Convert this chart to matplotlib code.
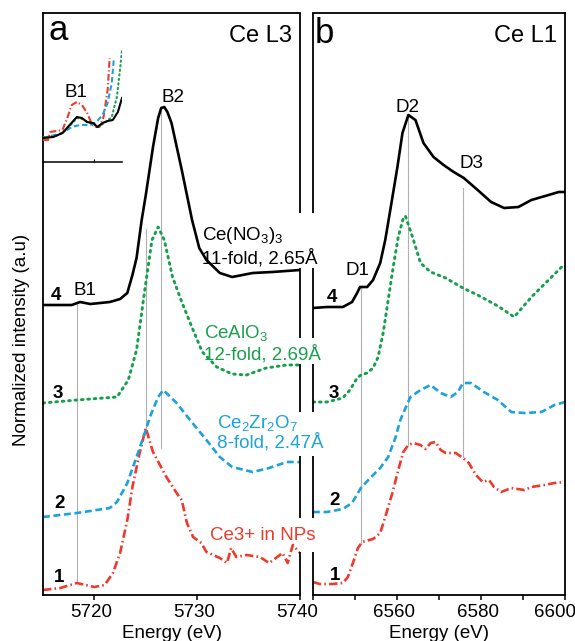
import matplotlib
matplotlib.use('Agg')
import matplotlib.pyplot as plt
from matplotlib.transforms import ScaledTranslation

plt.rcParams['font.family'] = ['Liberation Sans', 'DejaVu Sans']
plt.rcParams['mathtext.fontset'] = 'custom'
plt.rcParams['mathtext.rm'] = 'Liberation Sans'
plt.rcParams['mathtext.default'] = 'regular'

BLACK = 'black'
GREEN = '#17a04c'
BLUE = '#1ba2db'
RED = '#ee3a2c'

# vertical stacking of spectra 1..4
offsets = [0.10, 0.80, 1.92, 2.88]

# ---- Ce L3 edge (panel a) ----
l3_e1 = [5715.0, 5716.7, 5718.3, 5720.0, 5721.0, 5721.8, 5722.5, 5723.2, 5723.7, 5724.4,
         5725.0, 5725.7, 5727.0, 5728.0, 5728.5, 5729.0, 5729.6, 5730.4, 5730.9, 5732.2,
         5732.9, 5733.3, 5733.8, 5734.8, 5736.1, 5737.0, 5738.3, 5738.8, 5739.3, 5740.0]
l3_mu1 = [-0.05, -0.03, 0.02, -0.02, 0.00, 0.12, 0.32, 0.65, 0.98, 1.32,
          1.57, 1.33, 1.08, 0.92, 0.85, 0.62, 0.48, 0.42, 0.33, 0.27,
          0.22, 0.37, 0.28, 0.30, 0.28, 0.22, 0.32, 0.22, 0.40, 0.32]

l3_e2 = [5715.0, 5718.3, 5721.5, 5722.2, 5723.2, 5724.1, 5725.1, 5725.4, 5726.2, 5726.7,
         5728.0, 5729.3, 5730.9, 5732.2, 5733.4, 5735.4, 5737.0, 5738.7, 5740.0]
l3_mu2 = [-0.02, 0.02, 0.07, 0.13, 0.32, 0.58, 0.88, 0.98, 1.18, 1.25,
          1.12, 0.95, 0.75, 0.58, 0.48, 0.43, 0.47, 0.53, 0.53]

l3_e3 = [5715.0, 5718.3, 5722.2, 5723.3, 5724.1, 5724.9, 5725.6, 5726.2, 5726.8, 5727.6,
         5728.5, 5729.6, 5730.5, 5731.9, 5733.4, 5734.8, 5736.7, 5738.7, 5740.0]
l3_mu3 = [0.00, 0.03, 0.06, 0.23, 0.53, 1.13, 1.63, 1.76, 1.63, 1.26,
          1.01, 0.73, 0.51, 0.36, 0.29, 0.28, 0.35, 0.38, 0.38]

l3_e4 = [5715.0, 5717.8, 5718.6, 5719.6, 5721.5, 5722.5, 5723.2, 5723.7, 5724.1, 5724.6,
         5725.0, 5725.7, 5726.2, 5726.5, 5726.8, 5727.1, 5727.5, 5728.5, 5729.5, 5730.2,
         5730.9, 5732.2, 5733.4, 5735.4, 5737.3, 5740.0]
l3_mu4 = [0.02, 0.02, 0.05, 0.03, 0.05, 0.08, 0.14, 0.32, 0.49, 0.87,
          1.12, 1.60, 1.89, 1.99, 2.00, 1.95, 1.84, 1.37, 0.87, 0.59,
          0.47, 0.34, 0.30, 0.34, 0.35, 0.37]

# pre-edge (B1) region, magnified
pre_e1 = [5715.0, 5715.5, 5715.7, 5716.9, 5717.4, 5717.8, 5718.3, 5718.8, 5719.3, 5719.8,
          5720.2, 5720.5, 5720.9, 5721.3, 5721.5]
pre_mu1 = [0.22, 0.22, 0.30, 0.32, 0.45, 0.57, 0.60, 0.57, 0.49, 0.37,
           0.35, 0.35, 0.45, 0.72, 1.04]
pre_e2 = [5715.0, 5716.9, 5717.8, 5718.6, 5719.6, 5720.2, 5720.8, 5721.3, 5721.7, 5721.9]
pre_mu2 = [0.24, 0.29, 0.35, 0.37, 0.37, 0.40, 0.47, 0.59, 0.79, 1.03]
pre_e3 = [5715.0, 5716.0, 5716.9, 5717.6, 5718.3, 5718.8, 5719.3, 5719.9, 5720.3, 5721.0,
          5721.7, 5722.2, 5722.5, 5722.7]
pre_mu3 = [0.25, 0.25, 0.29, 0.36, 0.44, 0.43, 0.40, 0.38, 0.35, 0.39,
           0.45, 0.65, 0.92, 1.12]
pre_e4 = [5715.0, 5716.0, 5716.9, 5717.6, 5718.3, 5718.8, 5719.3, 5719.9, 5720.3, 5720.8,
          5721.3, 5721.8, 5722.3, 5722.7]
pre_mu4 = [0.24, 0.25, 0.29, 0.37, 0.45, 0.44, 0.40, 0.39, 0.35, 0.39,
           0.41, 0.42, 0.50, 0.64]

# ---- Ce L1 edge (panel b) ----
l1_e1 = [6540.0, 6541.6, 6544.7, 6547.1, 6548.3, 6549.5, 6550.7, 6551.7, 6554.3, 6556.0,
         6557.2, 6558.9, 6560.3, 6561.5, 6562.7, 6563.9, 6565.6, 6566.8, 6568.0, 6569.2,
         6570.4, 6571.6, 6574.0, 6575.7, 6577.1, 6578.8, 6580.4, 6581.9, 6583.1, 6584.8,
         6587.2, 6590.3, 6592.0, 6595.1, 6597.5, 6600.0]
l1_mu1 = [0.03, 0.01, 0.01, 0.02, 0.08, 0.22, 0.37, 0.43, 0.46, 0.52,
          0.68, 0.92, 1.15, 1.33, 1.40, 1.42, 1.40, 1.36, 1.42, 1.43,
          1.35, 1.32, 1.32, 1.27, 1.22, 1.10, 1.03, 1.05, 0.98, 0.93,
          0.97, 0.95, 0.98, 1.00, 1.02, 1.03]

l1_e2 = [6540.0, 6543.3, 6547.1, 6549.3, 6551.4, 6553.6, 6556.0, 6557.9, 6559.6, 6560.8,
         6561.5, 6563.2, 6565.6, 6568.0, 6570.4, 6572.8, 6574.5, 6575.7, 6577.6, 6580.7,
         6584.0, 6587.2, 6590.3, 6594.4, 6597.5, 6600.0]
l1_mu2 = [0.03, 0.03, 0.06, 0.12, 0.27, 0.37, 0.47, 0.58, 0.77, 0.95,
          1.02, 1.18, 1.25, 1.30, 1.22, 1.18, 1.23, 1.32, 1.32, 1.23,
          1.15, 1.03, 1.02, 1.03, 1.10, 1.13]

l1_e3 = [6540.0, 6543.3, 6547.1, 6548.8, 6550.5, 6551.4, 6552.9, 6554.3, 6555.5, 6556.7,
         6557.9, 6559.1, 6560.3, 6561.5, 6562.0, 6563.7, 6565.6, 6568.0, 6571.6, 6575.7,
         6579.2, 6584.0, 6587.9, 6592.0, 6596.1, 6599.2, 6600.0]
l1_mu3 = [0.01, 0.01, 0.05, 0.13, 0.25, 0.28, 0.30, 0.35, 0.46, 0.70,
          1.03, 1.36, 1.66, 1.85, 1.87, 1.66, 1.40, 1.31, 1.25, 1.15,
          1.08, 0.97, 0.86, 1.06, 1.23, 1.36, 1.38]

l1_e4 = [6540.0, 6543.3, 6547.1, 6549.3, 6550.5, 6551.2, 6552.9, 6554.3, 6556.0, 6557.2,
         6558.4, 6560.1, 6561.3, 6562.7, 6564.4, 6566.3, 6568.7, 6571.1, 6573.5, 6575.9,
         6579.2, 6582.4, 6585.5, 6588.9, 6592.0, 6596.1, 6598.5, 6600.0]
l1_mu4 = [-0.01, 0.00, 0.00, 0.05, 0.14, 0.20, 0.20, 0.27, 0.44, 0.67,
          0.97, 1.40, 1.74, 1.92, 1.87, 1.64, 1.50, 1.42, 1.35, 1.29,
          1.17, 1.05, 0.99, 1.00, 1.07, 1.12, 1.15, 1.15]

# feature guide lines: energy, y from, y to
l3_guides = [(5718.3, 0.12, 2.92), (5725.0, 1.67, 3.67), (5726.5, 1.47, 4.87)]
l1_guides = [(6551.4, 0.52, 3.08), (6562.5, 1.50, 4.80), (6575.7, 1.38, 4.08)]

# breaks in the shared middle frame lines (y ranges)
frame_gaps = [(3.27, 3.82), (2.31, 2.57), (1.39, 1.83), (0.43, 0.77)]

styles = [
    dict(color=RED, ls=(0, (3.2, 1.2, 0.6, 1.2)), lw=1.9),
    dict(color=BLUE, ls=(0, (2.6, 1.4)), lw=1.9),
    dict(color=GREEN, ls=(0, (0.6, 1.6)), lw=2.1, dash_capstyle='round'),
    dict(color=BLACK, ls='-', lw=1.9),
]

W, H = 575, 641
fig = plt.figure(figsize=(W / 100, H / 100), dpi=100)


def px_axes(l, t, r, b):
    return fig.add_axes([l / W, 1 - b / H, (r - l) / W, (b - t) / H])


ax_a = px_axes(43, 13, 300, 595)
ax_b = px_axes(313, 13, 565, 595)
ax_b.patch.set_visible(False)
YLIM = (0, 5.82)

for ax, curves in [(ax_a, [(l3_e1, l3_mu1), (l3_e2, l3_mu2), (l3_e3, l3_mu3), (l3_e4, l3_mu4)]),
                   (ax_b, [(l1_e1, l1_mu1), (l1_e2, l1_mu2), (l1_e3, l1_mu3), (l1_e4, l1_mu4)])]:
    for (e, mu), off, st in zip(curves, offsets, styles):
        ax.plot(e, [m + off for m in mu], **st)
    ax.set_ylim(*YLIM)
    ax.set_yticks([])
    for s in ax.spines.values():
        s.set_linewidth(1.3)
    ax.tick_params(axis='x', direction='out', length=3.5, width=1.1, pad=3, labelsize=13.5)
    ax.tick_params(axis='x', which='minor', direction='out', length=3.5, width=1.1)
    ax.set_xlabel('Energy (eV)', fontsize=13.5, labelpad=3)

ax_a.set_xlim(5715, 5740)
ax_a.set_xticks([5720, 5730, 5740])
ax_b.set_xlim(6540, 6600)
ax_b.set_xticks([6560, 6580, 6600])
ax_b.set_xticks([6540, 6550, 6570, 6590], minor=True)

# tick labels sit a little left of their ticks; the last one is pulled in to fit
for ax in (ax_a, ax_b):
    for lab in ax.get_xticklabels():
        dx = -10 if lab.get_text() == '6600' else -3
        lab.set_transform(lab.get_transform() + ScaledTranslation(dx / 100, 0, fig.dpi_scale_trans))

for x, y0, y1 in l3_guides:
    ax_a.vlines(x, y0, y1, colors='0.45', lw=0.8, linestyles=(0, (1, 0.8)), zorder=1)
for x, y0, y1 in l1_guides:
    ax_b.vlines(x, y0, y1, colors='0.45', lw=0.8, linestyles=(0, (1, 0.8)), zorder=1)

# middle frame lines drawn by hand so the labels can break them
ax_a.spines['right'].set_visible(False)
ax_b.spines['left'].set_visible(False)
edges = [YLIM[1]]
for g0, g1 in frame_gaps:
    edges += [g1, g0]
edges.append(YLIM[0])
for ax, xe in [(ax_a, 5740), (ax_b, 6540)]:
    for k in range(0, len(edges), 2):
        ax.plot([xe, xe], [edges[k], edges[k + 1]], color='black', lw=1.3,
                clip_on=False, solid_capstyle='butt')

# labels, panel a
FS = 13.5
ax_a.text(0.02, 0.954, 'a', transform=ax_a.transAxes, fontsize=25, va='baseline')
ax_a.text(0.969, 0.950, 'Ce L3', transform=ax_a.transAxes, fontsize=17, ha='right', va='baseline')
ax_a.text(5727.6, 4.93, 'B2', fontsize=FS, ha='center', va='baseline')
ax_a.text(5718.25, 4.98, 'B1', fontsize=FS, ha='center', va='baseline')
ax_a.text(5719.1, 3.00, 'B1', fontsize=FS, ha='center', va='baseline')
for n, (x, y) in enumerate([(5716.6, 0.13), (5716.6, 0.87), (5716.4, 1.97), (5716.3, 2.95)]):
    ax_a.text(x, y, str(n + 1), fontsize=FS, fontweight='bold', ha='center', va='baseline')
ax_a.text(5730.5, 3.32, 'Ce(NO$_3$)$_3$\n11-fold, 2.65Å', fontsize=FS, color=BLACK,
          va='baseline', linespacing=1.15, clip_on=False)
ax_a.text(5730.7, 2.35, 'CeAlO$_3$\n12-fold, 2.69Å', fontsize=FS, color=GREEN,
          va='baseline', linespacing=1.15, clip_on=False)
ax_a.text(5731.9, 1.47, 'Ce$_2$Zr$_2$O$_7$\n8-fold, 2.47Å', fontsize=FS, color=BLUE,
          va='baseline', linespacing=1.05, clip_on=False)
ax_a.text(5731.2, 0.55, 'Ce3+ in NPs', fontsize=FS, color=RED, va='baseline', clip_on=False)

# labels, panel b
ax_b.text(0.008, 0.948, 'b', transform=ax_b.transAxes, fontsize=25, va='baseline')
ax_b.text(0.968, 0.950, 'Ce L1', transform=ax_b.transAxes, fontsize=17, ha='right', va='baseline')
ax_b.text(6562.5, 4.83, 'D2', fontsize=FS, ha='center', va='baseline')
ax_b.text(6577.8, 4.27, 'D3', fontsize=FS, ha='center', va='baseline')
ax_b.text(6550.5, 3.20, 'D1', fontsize=FS, ha='center', va='baseline')
for n, (x, y) in enumerate([(6545.2, 0.15), (6545.2, 0.90), (6545.0, 1.97), (6544.5, 2.93)]):
    ax_b.text(x, y, str(n + 1), fontsize=FS, fontweight='bold', ha='center', va='baseline')

fig.text(22 / W, 1 - 340 / H, 'Normalized intensity (a.u)', rotation=90,
         fontsize=FS, ha='center', va='center')

# pre-edge inset
ax_in = px_axes(43, 45, 122, 162)
for e, mu, st in zip([pre_e1, pre_e2, pre_e3, pre_e4],
                     [pre_mu1, pre_mu2, pre_mu3, pre_mu4], styles):
    st = dict(st)
    st['lw'] = 1.5
    ax_in.plot(e, mu, **st)
ax_in.set_xlim(5715, 5722.7)
ax_in.set_ylim(0, 1.17)
ax_in.patch.set_visible(False)
for side in ['top', 'left', 'right']:
    ax_in.spines[side].set_visible(False)
ax_in.spines['bottom'].set_linewidth(1.1)
ax_in.set_yticks([])
ax_in.set_xticks([5720])
ax_in.set_xticklabels([])
ax_in.tick_params(axis='x', direction='in', length=2, width=0.8)

fig.savefig('out.png', dpi=100)
